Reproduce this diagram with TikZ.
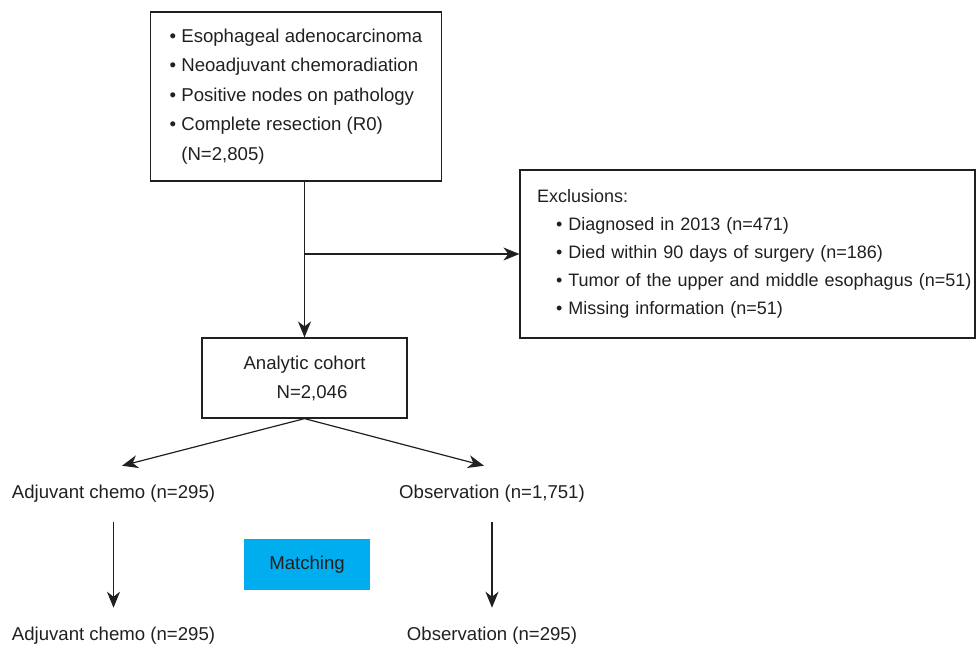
\documentclass[tikz,border=0pt]{standalone}
\usepackage{fontspec}
\setmainfont{Liberation Sans}
\usepackage{xcolor}
\usepackage{tikz}
\usetikzlibrary{positioning, arrows.meta}
\definecolor{ink}{HTML}{231F20}
\definecolor{matchblue}{HTML}{00AEEF}

\begin{document}
\begin{tikzpicture}[x=0.5pt, y=-0.5pt, line width=0.6pt, color=ink,
  >={Stealth[length=8pt,width=6.5pt,inset=2.5pt]},
  font=\fontsize{9.3}{14.75}\selectfont,
  box/.style={draw=ink, rectangle, inner ysep=0pt},
  armtext/.style={inner xsep=0pt, inner ysep=9.5pt}]
  \useasboundingbox (0,0) rectangle (976,645);
  % Boxes
  \node[box, inner xsep=9.5pt, minimum height=84.5pt, align=left] (cohort) at (296,96.5)
    {\textbullet\ Esophageal adenocarcinoma\\
     \textbullet\ Neoadjuvant chemoradiation\\
     \textbullet\ Positive nodes on pathology\\
     \textbullet\ Complete resection (R0)\\
     \phantom{\textbullet\ }(N=2,805)};
  \node[box, text width=210.5pt, inner xsep=8.5pt, minimum height=84pt, align=left,
        font=\fontsize{9.0}{14}\selectfont] (excl) at (747.5,254)
    {Exclusions:\\
     \hspace*{9.5pt}\textbullet\ Diagnosed in 2013 (n=471)\\
     \hspace*{9.5pt}\textbullet\ Died within 90 days of surgery (n=186)\\
     \mbox{\hspace*{9.5pt}\textbullet\ Tumor of the upper and middle esophagus (n=51)}\\
     \hspace*{9.5pt}\textbullet\ Missing information (n=51)};
  \node[box, minimum width=102.5pt, minimum height=40pt, align=center,
        font=\fontsize{9.3}{14.5}\selectfont] (analytic) at (304.5,378)
    {Analytic cohort\\\hspace*{7.5pt}N=2,046};
  % Treatment arms
  \node[armtext] (chemo) at (113.5,494) {Adjuvant chemo (n=295)};
  \node[armtext] (obs) at (492,494) {Observation (n=1,751)};
  \node[armtext] (chemom) at (113.5,636) {Adjuvant chemo (n=295)};
  \node[armtext] (obsm) at (492,636) {Observation (n=295)};
  \node[fill=matchblue, minimum width=63pt, minimum height=25.5pt] (matching) at (307,564.5) {Matching};
  % Arrows
  \coordinate (branch) at (analytic.north |- excl.west);
  \draw[->] (cohort.south -| analytic.north) -- (analytic.north);
  \draw[->] (branch) -- (excl.west);
  \draw[->] (analytic.south) -- ([xshift=4.25pt]chemo.north);
  \draw[->] (analytic.south) -- ([xshift=-4pt]obs.north);
  \draw[->] (chemo) -- (chemom);
  \draw[->] (obs) -- (obsm);
\end{tikzpicture}
\end{document}
